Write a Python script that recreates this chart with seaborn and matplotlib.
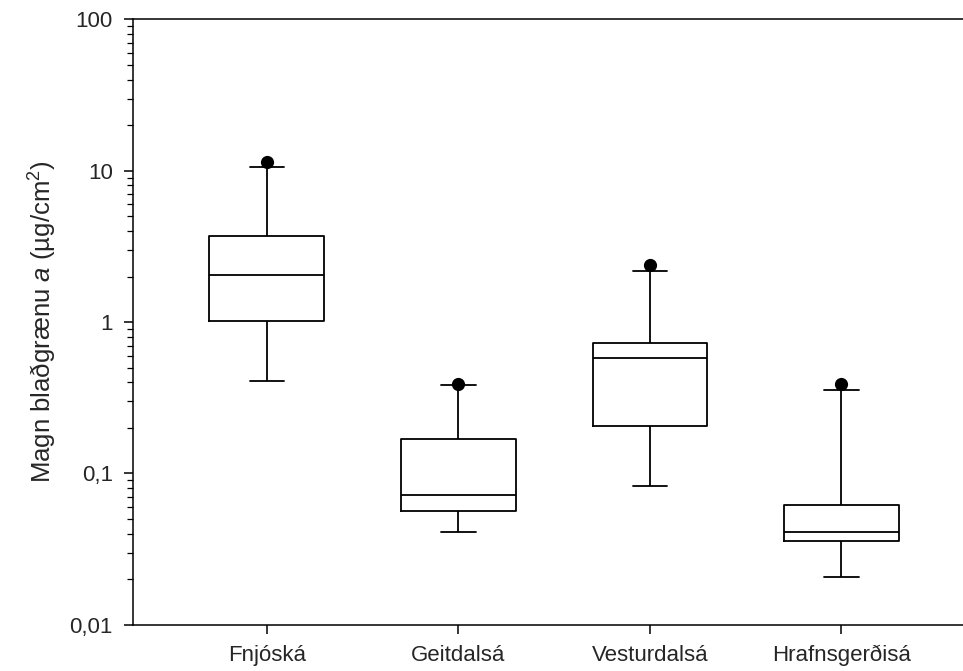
import numpy as np
import pandas as pd
import seaborn as sns
import matplotlib.pyplot as plt
from matplotlib.ticker import LogLocator, NullFormatter

rivers = ["Fnjóská", "Geitdalsá", "Vesturdalsá", "Hrafnsgerðisá"]
whisker_low = [0.41, 0.041, 0.082, 0.0206]
q1 = [1.01, 0.056, 0.205, 0.036]
median = [2.04, 0.0716, 0.577, 0.0408]
q3 = [3.70, 0.168, 0.726, 0.0615]
whisker_high = [10.6, 0.385, 2.17, 0.355]
outlier = [11.4, 0.39, 2.38, 0.39]

y_ticks = [0.01, 0.1, 1, 10, 100]
y_ticklabels = ["0,01", "0,1", "1", "10", "100"]

# five points per river -> percentiles land exactly on the box values
rows = []
for i, r in enumerate(rivers):
    for v in [whisker_low[i], q1[i], median[i], q3[i], whisker_high[i]]:
        rows.append({"river": r, "value": v})
df = pd.DataFrame(rows)

sns.set_theme(style="ticks")
plt.rcParams["font.family"] = ["Liberation Sans", "DejaVu Sans"]
plt.rcParams["mathtext.fontset"] = "custom"
plt.rcParams["mathtext.rm"] = "Liberation Sans"
plt.rcParams["mathtext.it"] = "Liberation Sans:italic"

fig = plt.figure(figsize=(9.63, 6.71), dpi=100)
ax = fig.add_axes([0.138, 0.069, 0.875, 0.902])
ax.set_yscale("log")

sns.boxplot(data=df, x="river", y="value", order=rivers, whis=(0, 100),
            width=0.6, capwidths=0.18, fill=False, color="black",
            linewidth=1.3, showfliers=False, ax=ax)
sns.stripplot(x=rivers, y=outlier, order=rivers, jitter=False, color="black",
              size=9.5, ax=ax, zorder=5)

ax.set_ylim(0.01, 100)
ax.set_xlim(-0.7, 3.7)
ax.set_yticks(y_ticks, labels=y_ticklabels)
ax.yaxis.set_minor_locator(LogLocator(base=10, subs=np.arange(2, 10)))
ax.yaxis.set_minor_formatter(NullFormatter())

ax.tick_params(axis="both", which="major", labelsize=16, length=6.5,
               width=1.1, color="black", pad=8)
ax.tick_params(axis="y", which="minor", length=4.5, width=0.9, color="black")
ax.set_xlabel("")
ax.set_ylabel("Magn blaðgrænu $\\it{a}$ (µg/cm$^2$)", fontsize=18.5)
ax.yaxis.set_label_coords(-0.088, 0.5)

ax.spines["right"].set_visible(False)
for s in ["top", "left", "bottom"]:
    ax.spines[s].set_color("black")
    ax.spines[s].set_linewidth(1.1)

plt.savefig("out.png", dpi=100)
